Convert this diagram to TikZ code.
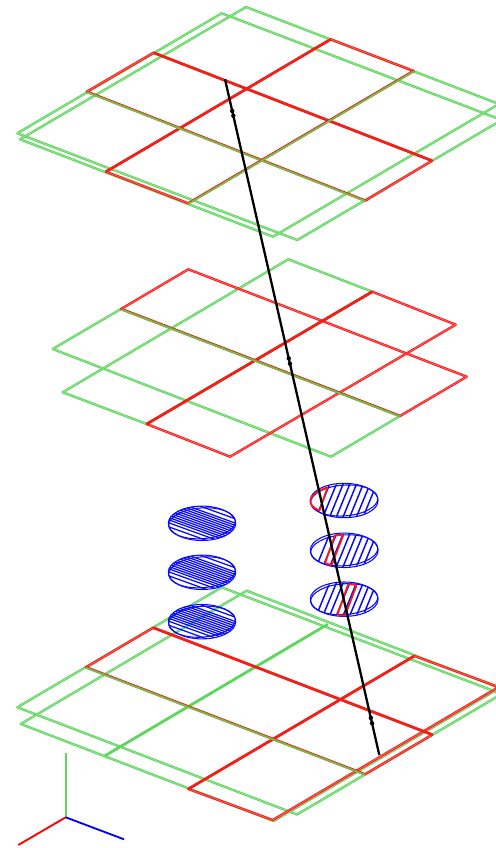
\documentclass[tikz,border=0pt]{standalone}
\usepackage{xcolor}
\usepackage{tikz}
\definecolor{tracegreen}{RGB}{92,214,92}
\definecolor{tracered}{RGB}{255,22,22}
\definecolor{tracedark}{RGB}{205,60,25}
\definecolor{traceolive}{RGB}{112,190,76}
\definecolor{padblue}{RGB}{10,10,250}
\tikzset{
  gtrace/.style={draw=tracegreen, line width=0.55pt, double=white!50!tracegreen, double distance=0.26pt, line join=round},
  rtrace/.style={draw=tracered, line width=0.55pt, double=white!45!tracered, double distance=0.26pt, line join=round},
  rdark/.style={draw=tracered, line width=0.6pt, double=tracedark, double distance=0.32pt},
  oline/.style={draw=traceolive, line width=1.05pt},
  othin/.style={draw=tracered, line width=0.6pt},
  padline/.style={draw=padblue, line width=0.6pt},
  lefthatch/.style={draw=padblue, line width=0.72pt},
  righthatch/.style={draw=padblue, line width=0.85pt},
  padred/.style={draw=tracered, line width=1pt, rounded corners=0.6pt},
  wire/.style={draw=black, line width=1.3pt},
  wiredot/.style={circle, fill=black, inner sep=0pt, minimum size=2.5pt},
  axisline/.style={line width=1.05pt}
}
\begin{document}
\begin{tikzpicture}[x=0.02cm,y=-0.02cm]
\useasboundingbox (0,0) rectangle (496,848);
\clip (0,0) rectangle (496,848);

% Top plate, green
\draw[gtrace] (221.7,13.3) -- (17.3,133.3) -- (297.3,240) -- (501.7,120) -- cycle;
\draw[gtrace] (246,7) -- (20,139.3) -- (273,236.7) -- (499,104) -- cycle;
% Top plate, red
\draw[rtrace] (153.5,52.7) -- (86.7,91.7) -- (365.3,200.7) -- (432,160.7) -- cycle;
\draw[rtrace] (330.7,39.3) -- (106,171.7) -- (188.3,203.3) -- (413.7,71) -- cycle;
\draw[rdark] (153.5,52.7) -- (432,160.7);
\draw[rdark] (330.7,39.3) -- (106,171.7);
\draw[othin] (86.7,91) -- (365.3,200);
\draw[oline] (86.7,92.1) -- (365.3,201.1);
\draw[othin] (413.4,70.4) -- (188,202.7);
\draw[oline] (413.9,71.4) -- (188.5,203.7);

% Middle plate, green
\draw[gtrace] (121,309) -- (52.7,349) -- (331,456.7) -- (400,416) -- cycle;
\draw[gtrace] (288.3,259.3) -- (62.7,392.3) -- (146.7,424) -- (372.3,291.7) -- cycle;
% Middle plate, red
\draw[rtrace] (188.3,269.3) -- (121,309) -- (400,416) -- (466.7,376.7) -- cycle;
\draw[rtrace] (372.3,291.7) -- (146.7,424) -- (230,456.7) -- (455.7,324.7) -- cycle;
\draw[rdark] (372.3,291.7) -- (146.7,424);
\draw[othin] (121,308.3) -- (400,415.3);
\draw[oline] (121,309.4) -- (400,416.4);

% Bottom plate, green
\draw[gtrace] (221.7,587.3) -- (17.3,707.3) -- (297,814.5) -- (501.7,694) -- cycle;
\draw[gtrace] (246.7,590.7) -- (20.7,724) -- (273.7,821) -- (499.7,688) -- cycle;
\draw[draw=tracegreen, line width=1.6pt] (327.7,624.3) -- (105,755.7);
% Bottom plate, red
\draw[rtrace] (153.3,627.7) -- (86,667.3) -- (365,774.3) -- (432.3,734.7) -- cycle;
\draw[rtrace] (414.3,656) -- (188.3,789) -- (272.7,820) -- (498.7,687) -- cycle;
\draw[rdark] (153.3,627.7) -- (432.3,734.7);
\draw[rdark] (414.3,656) -- (188.3,789);
\draw[othin] (86,666.6) -- (365,773.6);
\draw[oline] (86,667.7) -- (365,774.7);

% Left pads
\foreach \cy in {523.3,572.3,621.7} {
  \draw[padline] (202,\cy) ellipse (33.7 and 17.2);
  \draw[padline, rotate around={4:(202,\cy)}] (202,\cy) ellipse (33.4 and 15.4);
  \begin{scope}
    \clip (202,\cy) ellipse (33.7 and 17.2);
    \foreach \dy in {-16.5,-12.2,-9.9,-7.6,-5.3,-3,-0.7,1.6,3.9,6.2,8.5,11.5,15.5}
      \draw[lefthatch] (162,\cy+\dy-14.4) -- (242,\cy+\dy+14.4);
  \end{scope}
}

% Right pads
\foreach \cy in {500.5,550.3,599.2} {
  \draw[padline] (344.2,\cy) ellipse (33.9 and 17.2);
  \draw[padline, rotate around={4:(344.2,\cy)}] (344.2,\cy) ellipse (33.6 and 15.4);
  \begin{scope}
    \clip (344.2,\cy) ellipse (33.9 and 16.5);
    \foreach \dx in {-21.2,-14.5,-7.8,-1.1,5.6,12.3,19,25.7}
      \draw[righthatch] (344.2+\dx+8.2,\cy-20) -- (344.2+\dx-8.2,\cy+20);
  \end{scope}
}
\draw[padred] (319.5,510.7) .. controls (307,505) and (306,495) .. (327.5,487.3) -- cycle;
\draw[padred] (335,535) -- (343.3,535) -- (331.7,565) -- (325,563.3) -- cycle;
\draw[padred] (348.3,584) -- (356.7,585) -- (345,615.7) -- (337.3,615) -- cycle;

% Wire
\coordinate (wiretop) at (225,79.3);
\coordinate (wirebot) at (379.3,755);
\draw[wire] (wiretop) -- (wirebot)
    node[wiredot, pos=0.047] (dot1) {}
    node[wiredot, pos=0.054] (dot2) {}
    node[wiredot, pos=0.413] (dot3) {}
    node[wiredot, pos=0.421] (dot4) {}
    node[wiredot, pos=0.945] (dot5) {}
    node[wiredot, pos=0.953] (dot6) {};

% Axes
\coordinate (origin) at (65.7,817.3);
\draw[axisline, draw=tracegreen] (origin) -- (65.7,753.3);
\draw[axisline, draw=red] (origin) -- (18.3,845);
\draw[axisline, draw=blue] (origin) -- (124,839.3);
\end{tikzpicture}
\end{document}
